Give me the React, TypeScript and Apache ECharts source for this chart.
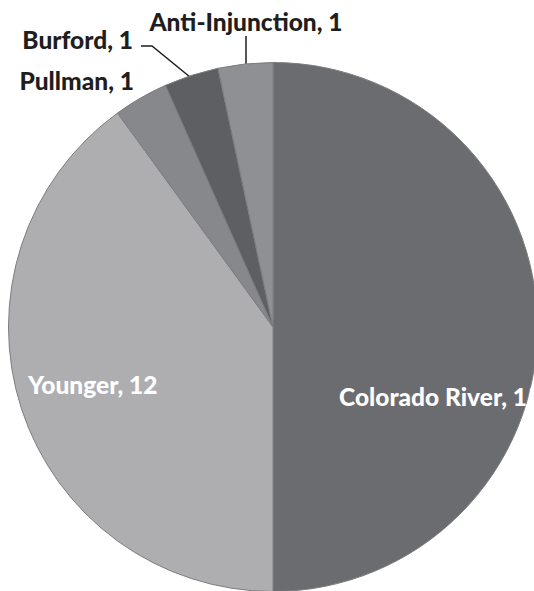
import React, { useEffect, useRef } from "react";
import * as echarts from "echarts";

const categories = ["Colorado River", "Younger", "Pullman", "Burford", "Anti-Injunction"];
const values = [15, 12, 1, 1, 1];
const sliceColors = ["#6b6c70", "#aeaeb1", "#87888b", "#5e5f62", "#8f9093"];
const insideLabels = [true, true, false, false, false];

export default function App() {
  const ref = useRef<HTMLDivElement>(null);
  useEffect(() => {
    if (!ref.current) return;
    const chart = echarts.init(ref.current, null, { renderer: "svg" });
    const cx = 273;
    const cy = 327;
    const r = 264.5;
    const data = categories.map((name, i) => ({
      name,
      value: values[i],
      itemStyle: { color: sliceColors[i] },
      label: insideLabels[i]
        ? { position: "inside", color: "#ffffff" }
        : { position: "outside", color: "#1e1e1e" },
      labelLine: { show: i === 3 || i === 4 },
    }));
    // label placement (Excel-like)
    const layouts: any[] = [
      { x: 339, y: 396, align: "left", verticalAlign: "middle" },
      { x: 28, y: 384, align: "left", verticalAlign: "middle" },
      { x: 134, y: 80, align: "right", verticalAlign: "middle" },
      {
        x: 133, y: 39, align: "right", verticalAlign: "middle",
        labelLinePoints: [[141, 46], [152, 46], [190, 77]],
      },
      {
        x: 246, y: 21, align: "center", verticalAlign: "middle",
        labelLinePoints: [[246, 36], [246, 64]],
      },
    ];
    chart.setOption({
      animation: false,
      backgroundColor: "#ffffff",
      series: [
        {
          type: "pie",
          center: [cx, cy],
          radius: [0, r],
          startAngle: 90,
          clockwise: true,
          avoidLabelOverlap: false,
          itemStyle: { borderColor: "#7d7d80", borderWidth: 1 },
          label: {
            show: true,
            formatter: "{b}, {c}",
            fontFamily: "Lato",
            fontWeight: 900,
            fontSize: 24.5,
          },
          labelLine: {
            show: true,
            lineStyle: { color: "#1e1e1e", width: 1.5 },
          },
          labelLayout: (params: any) => layouts[params.dataIndex],
          emphasis: { disabled: true },
          data,
        },
      ],
    });
    return () => chart.dispose();
  }, []);
  return (
    <div
      ref={ref}
      style={{ position: "absolute", left: 0, top: 0, width: 534, height: 591 }}
    />
  );
}
